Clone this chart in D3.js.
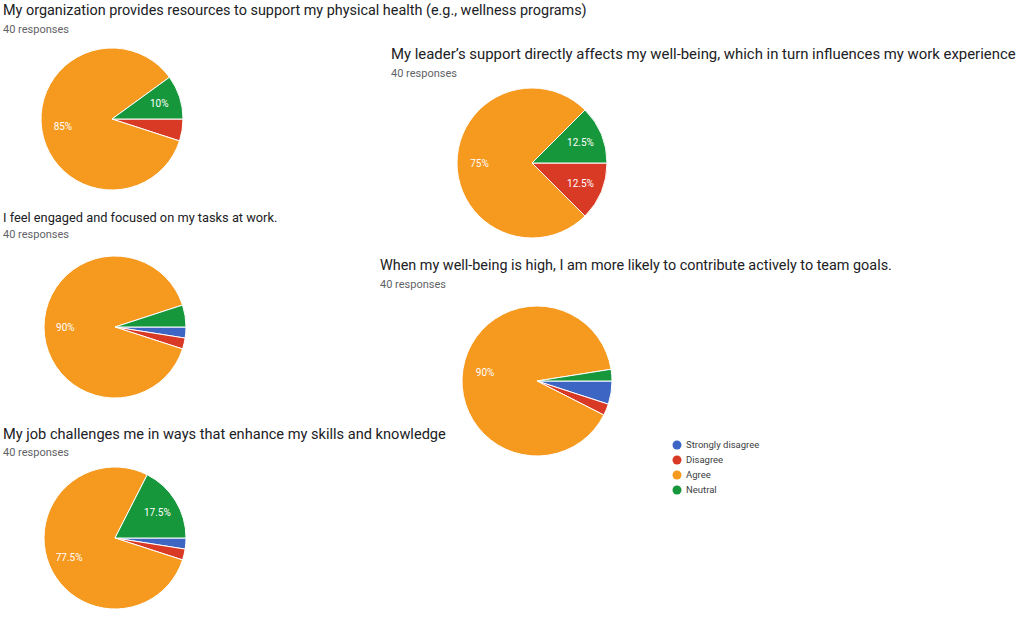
<!DOCTYPE html>
<html>
<head>
<meta charset="utf-8">
<script src="https://cdn.jsdelivr.net/npm/d3@7"></script>
<style>
  html, body { margin: 0; padding: 0; background: #fff; }
  svg { display: block; }
  text { font-family: Roboto, "Noto Sans", Arial, sans-serif; }
</style>
</head>
<body>
<svg id="chart" width="1018" height="621"></svg>
<script>
// ---- data ----
const categories = ["Strongly disagree", "Disagree", "Agree", "Neutral"];
const titles = [
  "My organization provides resources to support my physical health (e.g., wellness programs)",
  "My leader\u2019s support directly affects my well-being, which in turn influences my work experience",
  "I feel engaged and focused on my tasks at work.",
  "When my well-being is high, I am more likely to contribute actively to team goals.",
  "My job challenges me in ways that enhance my skills and knowledge"
];
const responses = [40, 40, 40, 40, 40];
// percentages in category order: Strongly disagree, Disagree, Agree, Neutral
const q1Values = [0, 5, 85, 10];
const q2Values = [0, 12.5, 75, 12.5];
const q3Values = [2.5, 2.5, 90, 5];
const q4Values = [5, 2.5, 90, 2.5];
const q5Values = [2.5, 2.5, 77.5, 17.5];
const seriesValues = [q1Values, q2Values, q3Values, q4Values, q5Values];

// ---- layout / style ----
const colors = ["#3d66c4", "#d93a25", "#f6991f", "#16973b"];
const layout = [
  { tx: 3,   ty: 15,  tfs: 14.4, sy: 33,  cx: 112, cy: 119, r: 71 },
  { tx: 391, ty: 59,  tfs: 14.9, sy: 77,  cx: 532, cy: 163, r: 75 },
  { tx: 3,   ty: 222, tfs: 12.8, sy: 238, cx: 115, cy: 327, r: 71 },
  { tx: 380, ty: 270, tfs: 14.4, sy: 288, cx: 537, cy: 381, r: 75 },
  { tx: 3,   ty: 439, tfs: 14.6, sy: 456, cx: 115, cy: 538, r: 71 }
];

const svg = d3.select("#chart");
const color = d3.scaleOrdinal().domain(categories).range(colors);

const pie = d3.pie()
  .sort(null)
  .value(d => d.value)
  .startAngle(Math.PI / 2)
  .endAngle(Math.PI / 2 + 2 * Math.PI);

seriesValues.forEach((vals, i) => {
  const L = layout[i];
  const g = svg.append("g");
  g.append("text")
    .attr("x", L.tx).attr("y", L.ty)
    .attr("font-size", L.tfs)
    .attr("fill", "#202124")
    .text(titles[i]);
  g.append("text")
    .attr("x", L.tx).attr("y", L.sy)
    .attr("font-size", 11)
    .attr("fill", "#5f6368")
    .text(responses[i] + " responses");

  const data = categories.map((c, k) => ({ cat: c, value: vals[k] }));
  const arcs = pie(data).filter(d => d.data.value > 0);
  const arc = d3.arc().innerRadius(0).outerRadius(L.r);
  const labelArc = d3.arc().innerRadius(L.r * 0.7).outerRadius(L.r * 0.7);

  const pg = g.append("g").attr("transform", `translate(${L.cx},${L.cy})`);
  pg.selectAll("path").data(arcs).join("path")
    .attr("d", arc)
    .attr("fill", d => color(d.data.cat))
    .attr("stroke", "#fff")
    .attr("stroke-width", 1);
  pg.selectAll("text").data(arcs.filter(d => d.data.value >= 10)).join("text")
    .attr("transform", d => `translate(${labelArc.centroid(d)})`)
    .attr("text-anchor", "middle")
    .attr("dy", "0.35em")
    .attr("font-size", 10)
    .attr("fill", "#fff")
    .text(d => d.data.value + "%");
});

// legend
const lg = svg.append("g").attr("transform", "translate(677,445)");
const items = lg.selectAll("g").data(categories).join("g")
  .attr("transform", (d, i) => `translate(0,${i * 15})`);
items.append("circle").attr("r", 4.5).attr("fill", d => color(d));
items.append("text").attr("x", 9).attr("dy", "0.35em")
  .attr("font-size", 9.5).attr("fill", "#3c4043").text(d => d);
</script>
</body>
</html>
